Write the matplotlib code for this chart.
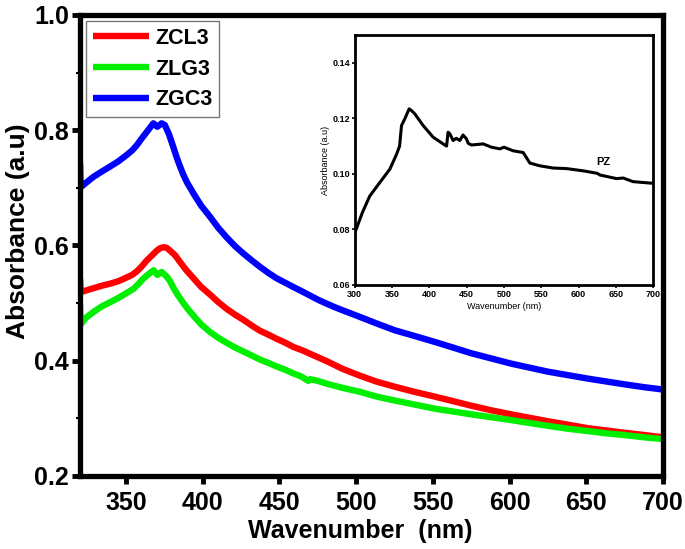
import matplotlib
matplotlib.use("Agg")
import matplotlib.pyplot as plt
from matplotlib.ticker import MultipleLocator

# ---- data ----
zcl3_x = [320, 320.4, 324, 329, 334, 340, 345, 350, 354, 357, 360, 363.5, 367, 370, 372, 374.3,
          376.5, 378.7, 382, 385, 389, 394, 399, 404.7, 410, 415.6, 421, 426.5, 432, 437.3,
          443, 448.2, 454, 459, 465, 470, 481, 491, 502.5, 513, 525, 538, 550.8, 563, 575,
          588, 601, 613, 625, 638, 651, 663, 675, 688, 700]
zcl3_y = [0.543, 0.519, 0.522, 0.526, 0.530, 0.534, 0.538, 0.544, 0.549, 0.555, 0.563, 0.574,
          0.583, 0.591, 0.595, 0.597, 0.596, 0.591, 0.583, 0.572, 0.558, 0.543, 0.528, 0.515,
          0.502, 0.490, 0.480, 0.471, 0.461, 0.452, 0.445, 0.438, 0.431, 0.424, 0.418, 0.412,
          0.399, 0.386, 0.374, 0.364, 0.355, 0.346, 0.338, 0.330, 0.322, 0.314, 0.307, 0.301,
          0.295, 0.289, 0.283, 0.279, 0.275, 0.271, 0.267]

zlg3_x = [320, 320.4, 324, 329, 334, 340, 345, 350, 355, 358, 361, 364.5, 368, 370.4, 373.2,
          376.5, 378.7, 381, 384, 387.4, 390.5, 394, 399, 404.7, 410, 415.6, 421, 426.5, 432,
          437.3, 443, 448.2, 454, 459, 464, 468.8, 470, 475, 481, 491, 502.5, 513, 525, 538,
          550.8, 563, 575, 588, 601, 613, 625, 638, 651, 663, 675, 688, 700]
zlg3_y = [0.497, 0.463, 0.475, 0.485, 0.494, 0.502, 0.509, 0.517, 0.525, 0.533, 0.542, 0.550,
          0.557, 0.549, 0.554, 0.546, 0.538, 0.526, 0.513, 0.500, 0.489, 0.478, 0.463, 0.450,
          0.440, 0.431, 0.423, 0.416, 0.409, 0.402, 0.396, 0.390, 0.384, 0.378, 0.373, 0.365,
          0.368, 0.365, 0.360, 0.353, 0.346, 0.338, 0.331, 0.324, 0.317, 0.312, 0.307, 0.302,
          0.297, 0.292, 0.287, 0.282, 0.278, 0.274, 0.271, 0.267, 0.264]

zgc3_x = [320, 320.4, 324, 328.7, 334, 339.6, 345, 350.4, 354, 357, 360, 363.5, 367.8, 370.4,
          373.2, 375.3, 378, 380.8, 383, 385.2, 387.5, 389.6, 394, 399, 404.7, 410, 415.6, 421,
          426.5, 432, 437.3, 443, 448.2, 454, 459, 465, 470, 475, 480.8, 486, 491.7, 502.5,
          513, 525, 538, 550.8, 563, 575, 588, 601, 613, 625, 638, 651, 663, 675, 688, 700]
zgc3_y = [0.743, 0.701, 0.709, 0.719, 0.728, 0.737, 0.746, 0.757, 0.765, 0.774, 0.785, 0.797,
          0.812, 0.806, 0.812, 0.809, 0.793, 0.771, 0.753, 0.737, 0.722, 0.710, 0.690, 0.669,
          0.650, 0.631, 0.614, 0.599, 0.586, 0.574, 0.563, 0.552, 0.543, 0.535, 0.528, 0.520,
          0.513, 0.506, 0.499, 0.493, 0.487, 0.476, 0.465, 0.453, 0.443, 0.433, 0.423, 0.413,
          0.404, 0.395, 0.388, 0.381, 0.375, 0.369, 0.364, 0.359, 0.354, 0.350]

pz_x = [300, 310, 320, 333.5, 347, 356, 360, 362.6, 367, 372.8, 376, 380.4, 391.6, 405, 418.4,
        423, 425, 427.4, 431.8, 436, 440.8, 445, 449.7, 452, 456.4, 465, 472, 483.2, 494.4,
        500, 512.3, 525.7, 530, 534.6, 548, 566, 583.8, 606, 625, 628.5, 650.8, 660, 673, 700]
pz_y = [0.0787, 0.0860, 0.0920, 0.0969, 0.1017, 0.1071, 0.1100, 0.1174, 0.1198, 0.1234,
        0.1228, 0.1216, 0.1174, 0.1132, 0.1108, 0.1100, 0.1150, 0.1144, 0.1120, 0.1128,
        0.1120, 0.1140, 0.1126, 0.1110, 0.1104, 0.1106, 0.1108, 0.1096, 0.1090, 0.1096,
        0.1083, 0.1077, 0.1059, 0.1039, 0.1029, 0.1021, 0.1019, 0.1011, 0.1002, 0.0996,
        0.0983, 0.0985, 0.0972, 0.0966]

series = [("ZCL3", zcl3_x, zcl3_y, "#ff0000"),
          ("ZLG3", zlg3_x, zlg3_y, "#00ee00"),
          ("ZGC3", zgc3_x, zgc3_y, "#0000ff")]

main_xticks = [350, 400, 450, 500, 550, 600, 650, 700]
main_yticks = [0.2, 0.4, 0.6, 0.8, 1.0]
inset_xticks = [300, 350, 400, 450, 500, 550, 600, 650, 700]
inset_yticks = [0.06, 0.08, 0.10, 0.12, 0.14]

NARROW = ["Liberation Sans Narrow", "Liberation Sans", "DejaVu Sans"]
plt.rcParams['font.family'] = ["Liberation Sans", "DejaVu Sans"]

fig = plt.figure(figsize=(6.85, 5.49), dpi=100)
ax = fig.add_axes([0.1168, 0.1330, 0.8511, 0.8397])

for name, xs, ys, c in series:
    ax.plot(xs, ys, color=c, lw=4.6, label=name, solid_joinstyle='round', solid_capstyle='butt')

ax.set_xlim(320, 700)
ax.set_ylim(0.2, 1.0)
ax.set_xticks(main_xticks)
ax.set_yticks(main_yticks)
ax.set_xticklabels([str(v) for v in main_xticks])
ax.set_yticklabels([f"{v:.1f}" for v in main_yticks])
ax.yaxis.set_minor_locator(MultipleLocator(0.1))
for lab in ax.get_xticklabels() + ax.get_yticklabels():
    lab.set_family(NARROW)
    lab.set_fontweight('bold')
    lab.set_fontsize(18)
ax.tick_params(axis='both', which='major', direction='out', length=6, width=3.5, pad=2)
ax.tick_params(axis='x', which='major', pad=5)
ax.tick_params(axis='y', which='minor', direction='out', length=3, width=1.5)
ax.tick_params(top=False, right=False)
for sp in ax.spines.values():
    sp.set_linewidth(3.8)

ax.set_xlabel("Wavenumber  (nm)", fontsize=18, fontweight='bold', labelpad=3)
ax.set_ylabel("Absorbance (a.u)", fontsize=19, fontweight='bold', labelpad=3)
ax.xaxis.label.set_x(0.48)
ax.yaxis.label.set_y(0.53)

leg = ax.legend(loc='upper left', prop={'weight': 'bold', 'size': 15.5},
                frameon=True, fancybox=False, edgecolor='#555555', handlelength=2.6,
                handletextpad=0.3, borderaxespad=0.3, labelspacing=0.45, borderpad=0.3)
leg.get_frame().set_linewidth(1.0)

# ---- inset ----
ins = fig.add_axes([0.518, 0.4809, 0.4355, 0.4554])
ins.plot(pz_x, pz_y, color='black', lw=2.2, solid_joinstyle='round')
ins.set_xlim(300, 700)
ins.set_ylim(0.06, 0.15)
ins.set_xticks(inset_xticks)
ins.set_yticks(inset_yticks)
ins.set_xticklabels([str(v) for v in inset_xticks])
ins.set_yticklabels([f"{v:.2f}" for v in inset_yticks])
for lab in ins.get_xticklabels() + ins.get_yticklabels():
    lab.set_family(NARROW)
    lab.set_fontsize(6.5)
    lab.set_fontweight('bold')
ins.tick_params(axis='both', direction='out', length=2.5, width=1.2, pad=1)
for sp in ins.spines.values():
    sp.set_linewidth(2.0)
ins.set_xlabel("Wavenumber (nm)", fontsize=6.5, family=NARROW, labelpad=2)
ins.set_ylabel("Absorbance (a.u)", fontsize=6.5, family=NARROW, labelpad=2)
ins.text(633, 0.1041, "PZ", fontsize=8, fontweight='bold', ha='center', va='center')

fig.savefig("out.png", dpi=100)
